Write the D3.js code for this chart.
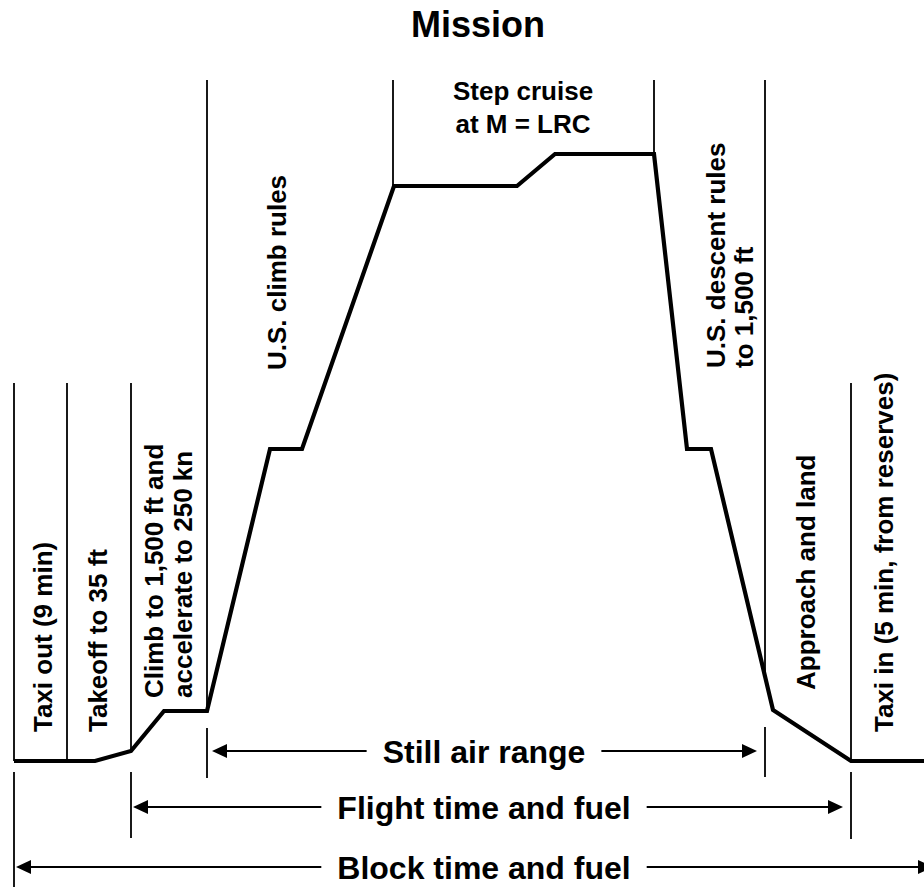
<!DOCTYPE html>
<html>
<head>
<meta charset="utf-8">
<script src="https://cdn.jsdelivr.net/npm/d3@7"></script>
<style>
  body { margin: 0; background: #fff; }
  text { font-family: "Liberation Sans", Arial, sans-serif; font-weight: bold; fill: #000; }
</style>
</head>
<body>
<svg id="chart" width="924" height="887"></svg>
<script>
// Flight profile: distance from gate vs altitude (diagram units)
var distance = [0, 81, 117, 150, 193, 256, 288, 380, 503, 541, 640, 673, 697, 759, 837, 920]
var altitude = [0, 0, 10, 50, 50, 312, 312, 575, 575, 607, 607, 312, 312, 51, 0, 0]

// Phase boundaries along the distance axis
var boundaries = [0, 53, 117, 193, 379, 640, 751, 837]

// Phase labels (rotated ones read bottom to top)
var phaseLabels = [
  ["Taxi out (9 min)"],
  ["Takeoff to 35 ft"],
  ["Climb to 1,500 ft and", "accelerate to 250 kn"],
  ["U.S. climb rules"],
  ["Step cruise", "at M = LRC"],
  ["U.S. descent rules", "to 1,500 ft"],
  ["Approach and land"],
  ["Taxi in (5 min, from reserves)"]
]

// Range / time brackets
var bracketNames = ["Still air range", "Flight time and fuel", "Block time and fuel"]
var bracketFrom  = [198, 119, 2]
var bracketTo    = [743, 829, 919]

var title = "Mission"

// ---- layout ----
var svg = d3.select('#chart')

var x = d3.scaleLinear().domain([0, 910]).range([14, 924])
var y = d3.scaleLinear().domain([0, 607]).range([761, 154])

// top of each boundary line (altitude units) and the short ticks below ground
var boundaryTop = [378, 378, 378, 681, 681, 681, 681, 378]
var ticksBelow = [
  {b: 0, y1: -11, y2: -130},
  {b: 2, y1: -11, y2: -77},
  {b: 3, y1: 33, y2: -17},
  {b: 6, y1: 34, y2: -16},
  {b: 7, y1: -11, y2: -78}
]
var bracketLevel = [10, -46, -106]
var bracketCenter = 470

// label placement: distance of first baseline, altitude where text starts/centres
var labelPos = [
  {d: 38,  a: 29,  anchor: 'start', rot: true},
  {d: 93,  a: 29,  anchor: 'start', rot: true},
  {d: 149, a: 63,  anchor: 'start', rot: true},
  {d: 272, a: 391, anchor: 'start', rot: true},
  {d: 509, a: 661, anchor: 'middle', rot: false},
  {d: 711, a: 393, anchor: 'start', rot: true},
  {d: 801, a: 71,  anchor: 'start', rot: true},
  {d: 879, a: 29,  anchor: 'start', rot: true}
]
var lineGap = [0, 0, 29, 0, 33, 28, 0, 0]

// altitude of the profile at a given distance
function profileAt(d) {
  for (var i = 1; i < distance.length; i++) {
    if (d <= distance[i]) {
      var t = (d - distance[i-1]) / (distance[i] - distance[i-1])
      return altitude[i-1] + t * (altitude[i] - altitude[i-1])
    }
  }
  return altitude[altitude.length - 1]
}

// title
svg.append('text')
  .attr('x', 478)
  .attr('y', 37)
  .attr('text-anchor', 'middle')
  .style('font-size', '36px')
  .text(title)

// boundary lines down to the profile
svg.selectAll('line.bound')
  .data(boundaries)
  .join('line')
  .attr('class', 'bound')
  .attr('x1', function(d) { return x(d) })
  .attr('x2', function(d) { return x(d) })
  .attr('y1', function(d, i) { return y(boundaryTop[i]) })
  .attr('y2', function(d) { return y(profileAt(d)) })
  .style('stroke', 'black')
  .style('stroke-width', 1.8)

// ticks below ground
svg.selectAll('line.tick')
  .data(ticksBelow)
  .join('line')
  .attr('class', 'tick')
  .attr('x1', function(d) { return x(boundaries[d.b]) })
  .attr('x2', function(d) { return x(boundaries[d.b]) })
  .attr('y1', function(d) { return y(d.y1) })
  .attr('y2', function(d) { return y(d.y2) })
  .style('stroke', 'black')
  .style('stroke-width', 1.8)

// the profile itself
var profile = distance.map(function(d, i) { return [d, altitude[i]] })
svg.append('path')
  .datum(profile)
  .attr('d', d3.line().x(function(p) { return x(p[0]) }).y(function(p) { return y(p[1]) }))
  .style('fill', 'none')
  .style('stroke', 'black')
  .style('stroke-width', 4.2)

// phase labels
phaseLabels.forEach(function(lines, i) {
  var pos = labelPos[i]
  var g = svg.append('g')
  if (pos.rot) {
    g.attr('transform', 'translate(' + x(pos.d) + ',' + y(pos.a) + ') rotate(-90)')
  } else {
    g.attr('transform', 'translate(' + x(pos.d) + ',' + y(pos.a) + ')')
  }
  var t = g.append('text')
    .attr('text-anchor', pos.anchor)
    .style('font-size', '26px')
  t.selectAll('tspan')
    .data(lines)
    .join('tspan')
    .attr('x', 0)
    .attr('y', function(d, j) { return j * lineGap[i] })
    .text(function(d) { return d })
})

// brackets with arrowheads
function arrowHead(tipX, tipY, dir) {
  var len = 15, half = 7
  return 'M' + tipX + ',' + tipY +
    'L' + (tipX + dir * len) + ',' + (tipY - half) +
    'L' + (tipX + dir * len) + ',' + (tipY + half) + 'Z'
}

bracketNames.forEach(function(name, i) {
  var yy = y(bracketLevel[i])
  var left = x(bracketFrom[i]), right = x(bracketTo[i])
  var cx = x(bracketCenter)

  var label = svg.append('text')
    .attr('x', cx)
    .attr('y', yy)
    .attr('dy', '0.36em')
    .attr('text-anchor', 'middle')
    .style('font-size', '32px')
    .text(name)
  var half = label.node().getComputedTextLength() / 2 + 16

  svg.append('line')
    .attr('x1', left + 10).attr('x2', cx - half)
    .attr('y1', yy).attr('y2', yy)
    .style('stroke', 'black').style('stroke-width', 1.8)
  svg.append('line')
    .attr('x1', cx + half).attr('x2', right - 10)
    .attr('y1', yy).attr('y2', yy)
    .style('stroke', 'black').style('stroke-width', 1.8)

  svg.append('path').attr('d', arrowHead(left, yy, 1)).style('fill', 'black')
  svg.append('path').attr('d', arrowHead(right, yy, -1)).style('fill', 'black')
})
</script>
</body>
</html>
